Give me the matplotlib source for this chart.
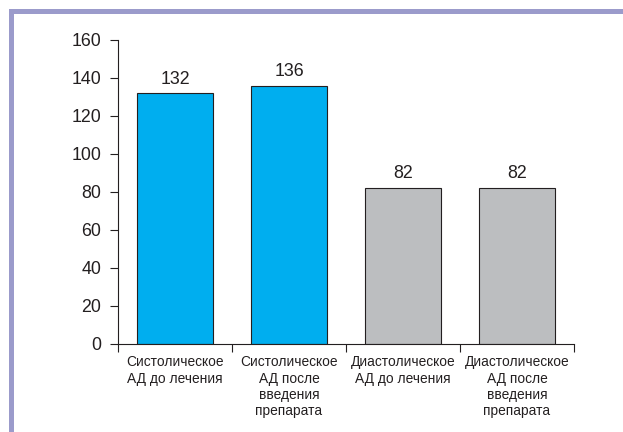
import matplotlib
matplotlib.use("Agg")
import matplotlib.pyplot as plt
from matplotlib.patches import Rectangle

plt.rcParams['font.family'] = ['Liberation Sans', 'DejaVu Sans']

categories = ["Систолическое\nАД до лечения",
              "Систолическое\nАД после\nвведения\nпрепарата",
              "Диастолическое\nАД до лечения",
              "Диастолическое\nАД после\nвведения\nпрепарата"]
values = [132, 136, 82, 82]
colors = ["#00aeef", "#00aeef", "#bcbec0", "#bcbec0"]
yticks = [0, 20, 40, 60, 80, 100, 120, 140, 160]

fig = plt.figure(figsize=(6.23, 4.32), dpi=100)
# purple frame
fig.add_artist(Rectangle((9/623, 1 - 14/432), 1 - 9/623, 5/432, transform=fig.transFigure,
                         facecolor="#9b9bcb", edgecolor="none"))
fig.add_artist(Rectangle((9/623, 0), 5/623, 1 - 9/432, transform=fig.transFigure,
                         facecolor="#9b9bcb", edgecolor="none"))

ax = fig.add_axes([118/623, 1 - 344/432, 456/623, 304/432])
x = list(range(len(values)))
ax.bar(x, values, width=0.667, color=colors, edgecolor="#231f20", linewidth=0.8)
for xi, v in zip(x, values):
    ax.text(xi, v + 3, str(v), ha="center", va="bottom", fontsize=12.8, color="#231f20")

ax.set_xlim(-0.5, 3.5)
ax.set_ylim(0, 160)
ax.set_yticks(yticks)
ax.set_yticklabels([str(t) for t in yticks], fontsize=12.8, color="#231f20")
ax.set_xticks([-0.5, 0.5, 1.5, 2.5, 3.5])
ax.set_xticklabels([])
ax.set_xticks(x, minor=True)
ax.set_xticklabels(categories, minor=True, fontsize=9.9, linespacing=1.22, color="#231f20")
ax.tick_params(axis="x", which="minor", length=0, pad=8)
ax.tick_params(axis="x", which="major", length=6, width=0.8, direction="out", color="#231f20")
ax.tick_params(axis="y", length=6, width=0.8, direction="out", pad=6, color="#231f20")
for s in ["top", "right"]:
    ax.spines[s].set_visible(False)
for s in ["left", "bottom"]:
    ax.spines[s].set_linewidth(0.8)
    ax.spines[s].set_color("#231f20")

fig.savefig("out.png", dpi=100)
